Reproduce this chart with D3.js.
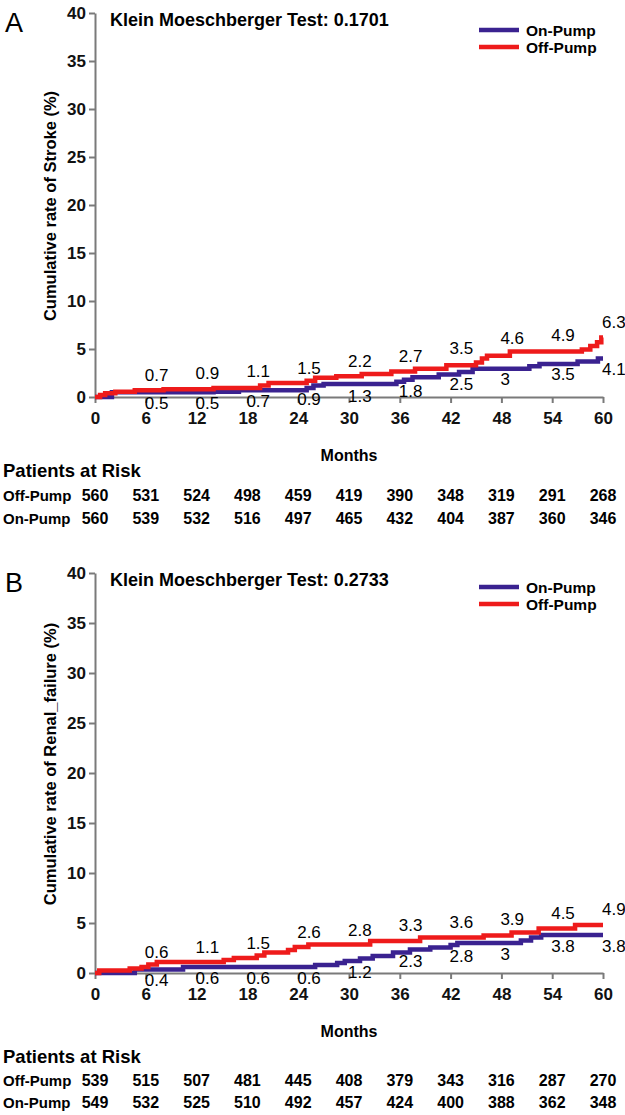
<!DOCTYPE html>
<html>
<head>
<meta charset="utf-8">
<script src="https://cdn.jsdelivr.net/npm/d3@7"></script>
<style type="text/css">
  body{
    background: white;
    margin: 0px;
    font-family: 'Liberation Sans', Arial, sans-serif;
  }
  .axis path, .axis line{
    stroke: #7a7a7a;
    stroke-width: 2px;
  }
  .axis text{
    font-size: 17px;
    font-weight: bold;
    fill: #111;
  }
  .kmline{
    fill: none;
    stroke-width: 4.5px;
  }
</style>
</head>
<body>
<script>

// ---- data ----
var months = [0, 6, 12, 18, 24, 30, 36, 42, 48, 54, 60];
var yTicks = [0, 5, 10, 15, 20, 25, 30, 35, 40];
var labelMonths = [6, 12, 18, 24, 30, 36, 42, 48, 54, 60];

// panel A: stroke
var offPumpA = [[0,0],[0.6,0.2],[1.2,0.4],[2.4,0.55],[4.7,0.7],[8.1,0.8],[14,0.95],[19.5,1.2],[20.5,1.45],
  [25,1.7],[26,2.0],[28.5,2.15],[31.5,2.4],[35,2.65],[37.8,2.95],[41.5,3.3],[45,3.6],[45.7,4.0],[46.3,4.3],
  [49,4.75],[57.5,4.95],[58.5,5.3],[59.3,5.7],[59.8,6.2],[60,6.2]];
var onPumpA = [[0,0],[2,0.5],[14,0.55],[17,0.7],[25,0.95],[25.8,1.2],[27,1.35],[35.6,1.6],[36.5,1.8],
  [37.5,2.05],[40.6,2.35],[43,2.6],[44.6,2.95],[51.3,3.2],[52.5,3.45],[57,3.7],[59.4,4.0],[60,4.0]];
var offLabelsA = ["0.7","0.9","1.1","1.5","2.2","2.7","3.5","4.6","4.9","6.3"];
var onLabelsA = ["0.5","0.5","0.7","0.9","1.3","1.8","2.5","3","3.5","4.1"];
var riskOffA = [560, 531, 524, 498, 459, 419, 390, 348, 319, 291, 268];
var riskOnA = [560, 539, 532, 516, 497, 465, 432, 404, 387, 360, 346];

// panel B: renal failure
var offPumpB = [[0,0],[0.5,0.25],[4.1,0.45],[5.5,0.6],[6.3,0.85],[7.3,1.1],[15.2,1.3],[16.4,1.5],[19.1,1.75],
  [20,2.05],[22.8,2.3],[23.6,2.6],[25.2,2.85],[32.5,3.2],[38.4,3.55],[45.9,3.75],[49.2,4.05],[52.4,4.45],
  [56.7,4.8],[60,4.8]];
var onPumpB = [[0,0],[4.7,0.35],[10.4,0.6],[26,0.8],[28.6,1.0],[29.5,1.2],[31.3,1.45],[32.8,1.7],[35.2,2.05],
  [37.2,2.35],[39.6,2.55],[42,2.8],[42.8,3.0],[50.3,3.25],[51.5,3.55],[52.7,3.8],[60,3.8]];
var offLabelsB = ["0.6","1.1","1.5","2.6","2.8","3.3","3.6","3.9","4.5","4.9"];
var onLabelsB = ["0.4","0.6","0.6","0.6","1.2","2.3","2.8","3","3.8","3.8"];
var riskOffB = [539, 515, 507, 481, 445, 408, 379, 343, 316, 287, 270];
var riskOnB = [549, 532, 525, 510, 492, 457, 424, 400, 388, 362, 348];

var seriesNames = ["On-Pump", "Off-Pump"];
var seriesColors = ["#3a2290", "#ee1b1b"];

var svg = d3.select("body").append("svg")
    .attr("width", 625)
    .attr("height", 1115);

function drawPanel(p) {

  var x = d3.scaleLinear().domain([0, 60]).range([95, 603]);
  var y = d3.scaleLinear().domain([0, 40]).range([p.bottom, p.top]);

  var g = svg.append("g");

  g.append("text")
    .attr("x", 5).attr("y", p.top + 19)
    .style("font-size", "27px")
    .text(p.letter);

  g.append("text")
    .attr("x", 110).attr("y", p.top + 13)
    .style("font-size", "18px").style("font-weight", "bold")
    .text("Klein Moeschberger Test: " + p.test);

  // axes
  g.append("g").attr("class", "axis")
    .attr("transform", "translate(95,0)")
    .call(d3.axisLeft(y).tickValues(yTicks).tickSize(6).tickSizeOuter(0).tickPadding(3));

  g.append("g").attr("class", "axis")
    .attr("transform", "translate(0," + p.bottom + ")")
    .call(d3.axisBottom(x).tickValues(months).tickSize(6).tickSizeOuter(0).tickPadding(9));

  g.append("text")
    .attr("transform", "translate(" + p.yLabelX + "," + p.yLabelY + ") rotate(-90)")
    .attr("text-anchor", "middle")
    .style("font-size", "16.5px").style("font-weight", "bold")
    .text(p.yLabel);

  g.append("text")
    .attr("x", x(30)).attr("y", p.bottom + 64)
    .attr("text-anchor", "middle")
    .style("font-size", "16px").style("font-weight", "bold")
    .text("Months");

  // KM step curves, on-pump under off-pump
  var line = d3.line()
    .curve(d3.curveStepAfter)
    .x(function(d) { return x(d[0]); })
    .y(function(d) { return y(d[1]); });

  [p.on, p.off].forEach(function(s, i) {
    g.append("path")
      .datum(s)
      .attr("class", "kmline")
      .attr("stroke", seriesColors[i])
      .attr("d", line);
  });

  // value labels
  g.selectAll(".offlab").data(p.offLabels).enter().append("text")
    .attr("x", function(d, i) { return x(labelMonths[i]) - 1; })
    .attr("y", function(d) { return y(+d) - 9; })
    .style("font-size", "17px")
    .text(function(d) { return d; });

  g.selectAll(".onlab").data(p.onLabels).enter().append("text")
    .attr("x", function(d, i) { return x(labelMonths[i]) - 1; })
    .attr("y", function(d) { return y(+d) + 17; })
    .style("font-size", "17px")
    .text(function(d) { return d; });

  // legend
  seriesNames.forEach(function(n, i) {
    var ly = p.legendY + i * 17;
    g.append("line")
      .attr("x1", 479).attr("x2", 519)
      .attr("y1", ly).attr("y2", ly)
      .attr("stroke", seriesColors[i])
      .attr("stroke-width", 4.5);
    g.append("text")
      .attr("x", 526).attr("y", ly + 6)
      .style("font-size", "15.5px").style("font-weight", "bold")
      .text(n);
  });

  // patients at risk
  g.append("text")
    .attr("x", 3).attr("y", p.riskY)
    .style("font-size", "18.5px").style("font-weight", "bold")
    .text("Patients at Risk");

  [["Off-Pump", p.riskOff, p.riskY + p.rowGap], ["On-Pump", p.riskOn, p.riskY + 2 * p.rowGap]].forEach(function(r) {
    g.append("text")
      .attr("x", 3).attr("y", r[2])
      .style("font-size", "15px").style("font-weight", "bold")
      .text(r[0]);
    g.selectAll(null).data(r[1]).enter().append("text")
      .attr("x", function(d, i) { return x(months[i]); })
      .attr("y", r[2])
      .attr("text-anchor", "middle")
      .style("font-size", "16px").style("font-weight", "bold")
      .text(function(d) { return d; });
  });
}

drawPanel({
  letter: "A", test: "0.1701", top: 13, bottom: 397,
  yLabel: "Cumulative rate of Stroke (%)", yLabelX: 56, yLabelY: 206,
  legendY: 30, off: offPumpA, on: onPumpA, offLabels: offLabelsA, onLabels: onLabelsA,
  riskOff: riskOffA, riskOn: riskOnA, riskY: 477, rowGap: 23.5
});

drawPanel({
  letter: "B", test: "0.2733", top: 573, bottom: 973,
  yLabel: "Cumulative rate of Renal_failure (%)", yLabelX: 56, yLabelY: 764,
  legendY: 587, off: offPumpB, on: onPumpB, offLabels: offLabelsB, onLabels: onLabelsB,
  riskOff: riskOffB, riskOn: riskOnB, riskY: 1063, rowGap: 22.5
});

</script>
</body>
</html>
